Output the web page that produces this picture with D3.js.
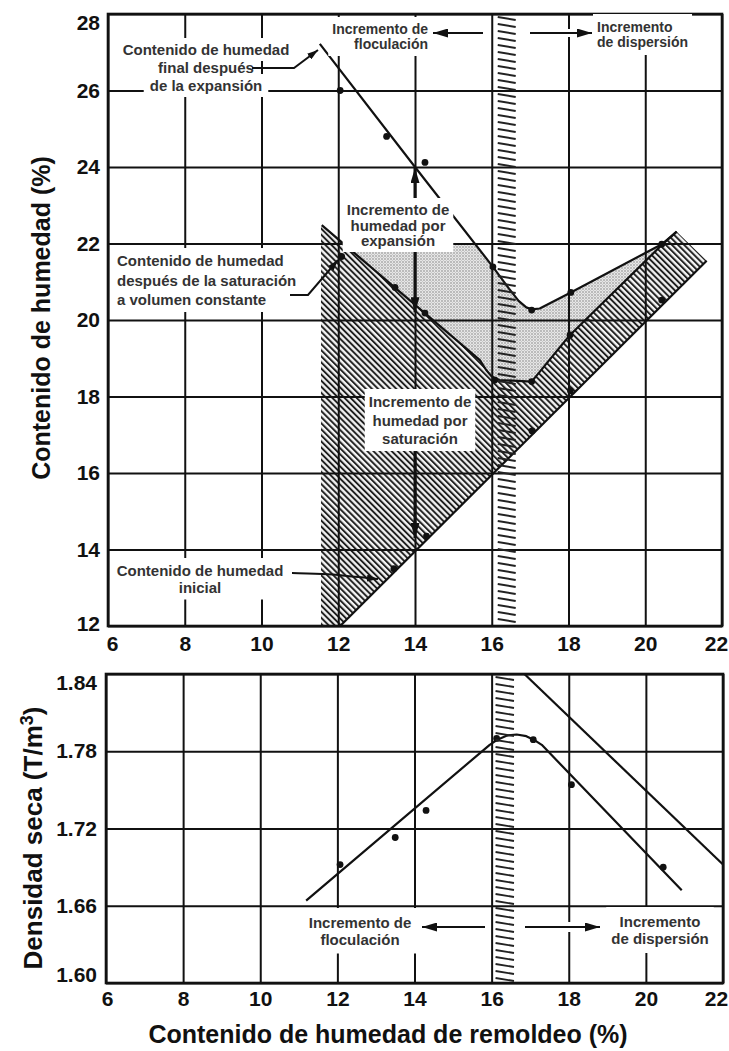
<!DOCTYPE html>
<html><head><meta charset="utf-8">
<script src="https://cdn.jsdelivr.net/npm/d3@7"></script>
<style>
body{margin:0;background:#fff;}
svg{display:block;}
text{font-family:"Liberation Sans",Arial,sans-serif;}
</style></head><body>
<svg id="c" width="729" height="1051"></svg>
<script>
// ---------- data ----------
const xTicks = [6, 8, 10, 12, 14, 16, 18, 20, 22];
const yTicksTop = [12, 14, 16, 18, 20, 22, 24, 26, 28];
const yTicksBottom = [1.60, 1.66, 1.72, 1.78, 1.84];

// moisture content after free swell (final)
const finalLine = [[11.52, 27.22], [14.0, 24.0], [16.03, 21.39], [16.45, 20.82], [16.7, 20.5], [16.9, 20.33], [17.04, 20.28], [17.25, 20.3], [18.06, 20.72], [20.43, 21.98], [20.82, 22.31]];
const finalDots = [[12.05, 26.0], [13.26, 24.8], [14.26, 24.12], [16.03, 21.39], [17.04, 20.26], [18.06, 20.72], [20.43, 21.98]];
// moisture content after saturation at constant volume
const satLine = [[11.57, 22.48], [15.69, 18.95], [15.85, 18.7], [16.0, 18.52], [16.2, 18.43], [17.04, 18.39], [18.04, 19.61], [20.43, 21.96], [20.82, 22.31]];
const satDots = [[12.09, 21.66], [13.48, 20.85], [14.26, 20.18], [16.08, 18.43], [17.04, 18.39], [18.04, 19.61]];
// initial moisture content
const initLine = [[12.05, 12.0], [21.6, 21.55]];
const initDots = [[13.45, 13.5], [14.3, 14.35], [17.05, 17.1], [18.05, 18.15], [20.43, 20.52]];
const hatchLeftX = 11.55;
const bandX = [16.13, 16.65];

// dry density
const densityCurve = [[11.19, 1.664], [15.95, 1.785], [16.15, 1.789], [16.4, 1.7922], [16.65, 1.793], [16.9, 1.7917], [17.1, 1.7888], [17.3, 1.785], [20.93, 1.672]];
const densityDots = [[12.07, 1.692], [13.5, 1.713], [14.3, 1.734], [16.13, 1.790], [17.08, 1.789], [18.07, 1.754], [20.45, 1.690]];
const zeroAirVoids = [[16.85, 1.84], [22.0, 1.692]];
const bandX2 = [16.05, 16.58];

// texts
const yTitleTop = "Contenido de humedad (%)";
const xTitle = "Contenido de humedad de remoldeo (%)";
const lblFlocTop = ["Incremento de", "floculación"];
const lblDispTop = ["Incremento", "de dispersión"];
const lblFinal = ["Contenido de humedad", "final después", "de la expansión"];
const lblSat = ["Contenido de humedad", "después de la saturación", "a volumen constante"];
const lblInit = ["Contenido de humedad", "inicial"];
const lblExp = ["Incremento de", "humedad por", "expansión"];
const lblSatInc = ["Incremento de", "humedad por", "saturación"];
const lblFlocBot = ["Incremento de", "floculación"];
const lblDispBot = ["Incremento", "de dispersión"];

// ---------- drawing ----------
const svg = d3.select("#c");
const INK = "#111";
const defs = svg.append("defs");

// patterns
const hp = defs.append("pattern").attr("id", "hatch").attr("patternUnits", "userSpaceOnUse")
  .attr("width", 4.3).attr("height", 10).attr("patternTransform", "rotate(-45)");
hp.append("rect").attr("width", 4.3).attr("height", 10).attr("fill", "#f4f4f4");
hp.append("line").attr("x1", 1).attr("x2", 1).attr("y1", 0).attr("y2", 10).attr("stroke", "#1a1a1a").attr("stroke-width", 1.9);

const sp = defs.append("pattern").attr("id", "stipple").attr("patternUnits", "userSpaceOnUse")
  .attr("width", 3).attr("height", 3);
sp.append("rect").attr("width", 3).attr("height", 3).attr("fill", "#e6e6e6");
sp.append("circle").attr("cx", 1).attr("cy", 1).attr("r", 0.7).attr("fill", "#707070");
sp.append("circle").attr("cx", 2.5).attr("cy", 2.5).attr("r", 0.4).attr("fill", "#a0a0a0");

function marker(id, w, h) {
  defs.append("marker").attr("id", id).attr("markerUnits", "userSpaceOnUse")
    .attr("viewBox", `0 0 ${w} ${h}`).attr("markerWidth", w).attr("markerHeight", h)
    .attr("refX", w).attr("refY", h / 2).attr("orient", "auto")
    .append("path").attr("d", `M0,0L${w},${h / 2}L0,${h}Z`).attr("fill", INK);
}
marker("ahBig", 15, 9);
marker("ahSmall", 11, 7);

const x = d3.scaleLinear().domain([6, 22]).range([108, 722]);
const y = d3.scaleLinear().domain([12, 28]).range([626, 14]);
const x2 = d3.scaleLinear().domain([6, 22]).range([106, 723]);
const y2 = d3.scaleLinear().domain([1.60, 1.84]).range([983, 674]);

const tickFont = g => g.selectAll("text").attr("font-size", 21).attr("font-weight", "bold").attr("fill", INK)
  .attr("font-family", '"Liberation Sans", Arial, sans-serif');
const gridStyle = g => { g.select(".domain").remove(); g.selectAll("line").attr("stroke", INK).attr("stroke-width", 2); };

function addLabel(g, lines, px, py, lh, anchor, pad, perLine, fs) {
  const t = g.append("text").attr("text-anchor", anchor).attr("font-size", fs || 15)
    .attr("font-weight", "bold").attr("fill", "#333");
  lines.forEach((s, i) => t.append("tspan").attr("x", px).attr("y", py + i * lh).text(s));
  const boxes = [];
  if (perLine) {
    t.selectAll("tspan").each(function () { boxes.push(this.getBBox()); });
  } else boxes.push(t.node().getBBox());
  boxes.forEach(b => g.insert("rect", () => t.node()).attr("x", b.x - pad[0]).attr("y", b.y - pad[1])
    .attr("width", b.width + 2 * pad[0]).attr("height", b.height + 2 * pad[1]).attr("fill", "#fff"));
  return t.node().getBBox();
}

// ===== TOP CHART =====
const gTop = svg.append("g");
const lineGen = d3.line().x(d => x(d[0])).y(d => y(d[1]));

// clip regions
defs.append("clipPath").attr("id", "below22").append("rect")
  .attr("x", x(6)).attr("y", y(22)).attr("width", x(22) - x(6)).attr("height", y(12) - y(22));
const satEnd = satLine[satLine.length - 1];
defs.append("clipPath").attr("id", "aboveSat").append("path")
  .attr("d", lineGen(satLine) + `L${x(satEnd[0])},${y(28)}L${x(satLine[0][0])},${y(28)}Z`);

// stipple (expansion increase)
const fLast = finalLine[finalLine.length - 1];
gTop.append("g").attr("clip-path", "url(#below22)").append("path")
  .attr("clip-path", "url(#aboveSat)")
  .attr("d", lineGen(finalLine) + `L${x(fLast[0])},${y(12)}L${x(finalLine[0][0])},${y(12)}Z`)
  .attr("fill", "url(#stipple)");

// hatch (saturation increase)
gTop.append("path")
  .attr("d", lineGen(satLine) + `L${x(initLine[1][0])},${y(initLine[1][1])}L${x(initLine[0][0])},${y(initLine[0][1])}L${x(hatchLeftX)},${y(12)}L${x(hatchLeftX)},${y(satLine[0][1])}Z`)
  .attr("fill", "url(#hatch)");

// grid + axes
gTop.append("g").attr("transform", `translate(0,${y(12)})`)
  .call(d3.axisBottom(x).tickValues(xTicks).tickSize(-(y(12) - y(28))).tickPadding(10).tickFormat(d3.format("d")))
  .call(gridStyle).call(tickFont)
  .call(g => g.selectAll(".tick text").attr("dx", d => d === 6 ? 4 : d === 22 ? -6 : 0));
gTop.append("g").attr("transform", `translate(${x(6)},0)`)
  .call(d3.axisLeft(y).tickValues(yTicksTop).tickSize(-(x(22) - x(6))).tickPadding(8).tickFormat(d3.format("d")))
  .call(gridStyle).call(tickFont)
  .call(g => g.selectAll(".tick text").attr("dy", d => d === 28 ? "0.75em" : d === 12 ? "0.2em" : "0.32em"));
gTop.append("rect").attr("x", x(6)).attr("y", y(28)).attr("width", x(22) - x(6)).attr("height", y(12) - y(28))
  .attr("fill", "none").attr("stroke", INK).attr("stroke-width", 2.6);

// lines
const lineStyle = p => p.attr("fill", "none").attr("stroke", INK).attr("stroke-width", 2.2).attr("stroke-linejoin", "round");
gTop.append("path").attr("d", lineGen(finalLine)).call(lineStyle);
gTop.append("path").attr("d", lineGen(satLine)).call(lineStyle);
gTop.append("path").attr("d", lineGen(initLine)).call(lineStyle);

// dots
[finalDots, satDots, initDots].forEach(arr => gTop.append("g").selectAll("circle").data(arr).join("circle")
  .attr("cx", d => x(d[0])).attr("cy", d => y(d[1])).attr("r", 3.4).attr("fill", INK));

// vertical band (top)
const bandTop = gTop.append("g").attr("stroke", "#222").attr("stroke-width", 1.9);
bandTop.selectAll("line").data(d3.range(y(28) + 3, y(12) - 3, 7)).join("line")
  .attr("x1", x(bandX[0]) + 1).attr("x2", x(bandX[1]) - 1).attr("y1", d => d).attr("y2", d => d + 3);

// labels top
addLabel(gTop, lblFlocTop, 428, 34, 15, "end", [4, 4], false, 14);
addLabel(gTop, lblDispTop, 597, 32, 15, "start", [4, 5], false, 14);
addLabel(gTop, lblFinal, 206, 55, 18, "middle", [6, 3], true);
addLabel(gTop, lblSat, 117, 266, 19.5, "start", [6, 4], false);
addLabel(gTop, lblInit, 200, 576, 16.5, "middle", [6, 4], false);
const bExp = addLabel(gTop, lblExp, 398, 215, 15.5, "middle", [4, 3], false);
const bSatInc = addLabel(gTop, lblSatInc, 420, 407, 18.5, "middle", [4, 4], false);

// arrows top
const arrow = (g, pts, m, w) => g.append("path").attr("d", d3.line()(pts)).attr("fill", "none")
  .attr("stroke", INK).attr("stroke-width", w).attr("marker-end", `url(#${m})`);
gTop.append("rect").attr("x", 430).attr("y", 29).attr("width", 56).attr("height", 8).attr("fill", "#fff");
gTop.append("rect").attr("x", 527).attr("y", 29).attr("width", 68).attr("height", 8).attr("fill", "#fff");
arrow(gTop, [[483, 33], [433, 33]], "ahBig", 2);
arrow(gTop, [[530, 33], [592, 33]], "ahBig", 2);
arrow(gTop, [[x(14), bExp.y - 3], [x(14), y(24) + 1]], "ahBig", 3);
arrow(gTop, [[x(14), bExp.y + bExp.height + 3], [x(14), y(20.2)]], "ahBig", 3);
arrow(gTop, [[x(14), bSatInc.y + bSatInc.height + 4], [x(14), y(14.3)]], "ahBig", 3);
// leaders
arrow(gTop, [[252, 68], [294, 68], [318, 50]], "ahSmall", 2);
arrow(gTop, [[290, 295], [308, 295], [338, 260]], "ahSmall", 2);
gTop.append("path").attr("d", d3.line().curve(d3.curveBasis)([[292, 573], [330, 574], [356, 577], [378, 579]]))
  .attr("fill", "none").attr("stroke", INK).attr("stroke-width", 2).attr("marker-end", "url(#ahSmall)");

// y title top
svg.append("text").attr("transform", `translate(50,318) rotate(-90)`).attr("text-anchor", "middle")
  .attr("font-size", 25).attr("font-weight", "bold").attr("fill", INK).text(yTitleTop);

// ===== BOTTOM CHART =====
const gBot = svg.append("g");
gBot.append("g").attr("transform", `translate(0,${y2(1.60)})`)
  .call(d3.axisBottom(x2).tickValues(xTicks).tickSize(-(y2(1.60) - y2(1.84))).tickPadding(8).tickFormat(d3.format("d")))
  .call(gridStyle).call(tickFont)
  .call(g => g.selectAll(".tick text").attr("dx", d => d === 6 ? 1 : d === 22 ? -7 : 0));
gBot.append("g").attr("transform", `translate(${x2(6)},0)`)
  .call(d3.axisLeft(y2).tickValues(yTicksBottom).tickSize(-(x2(22) - x2(6))).tickPadding(9).tickFormat(d3.format(".2f")))
  .call(gridStyle).call(tickFont)
  .call(g => g.selectAll(".tick text").attr("dy", d => d === 1.84 ? "0.72em" : d === 1.60 ? "-0.05em" : "0.32em"));
gBot.append("rect").attr("x", x2(6)).attr("y", y2(1.84)).attr("width", x2(22) - x2(6)).attr("height", y2(1.60) - y2(1.84))
  .attr("fill", "none").attr("stroke", INK).attr("stroke-width", 2.6);

const lineGen2 = d3.line().x(d => x2(d[0])).y(d => y2(d[1]));
gBot.append("path").attr("d", lineGen2(densityCurve)).call(lineStyle);
gBot.append("path").attr("d", lineGen2(zeroAirVoids)).call(lineStyle);
gBot.append("g").selectAll("circle").data(densityDots).join("circle")
  .attr("cx", d => x2(d[0])).attr("cy", d => y2(d[1])).attr("r", 3.4).attr("fill", INK);

const bandBot = gBot.append("g").attr("stroke", "#222").attr("stroke-width", 1.9);
bandBot.selectAll("line").data(d3.range(y2(1.84) + 3, y2(1.60) - 3, 7)).join("line")
  .attr("x1", x2(bandX2[0]) + 2).attr("x2", x2(bandX2[1])).attr("y1", d => d).attr("y2", d => d + 3);

addLabel(gBot, lblFlocBot, 360, 928, 16.5, "middle", [5, 6], false);
addLabel(gBot, lblDispBot, 660, 927, 17, "middle", [5, 6], false);
gBot.append("rect").attr("x", 420).attr("y", 922).attr("width", 68).attr("height", 10).attr("fill", "#fff");
gBot.append("rect").attr("x", 522).attr("y", 922).attr("width", 80).attr("height", 10).attr("fill", "#fff");
arrow(gBot, [[485, 927], [422, 927]], "ahBig", 2);
arrow(gBot, [[525, 927], [600, 927]], "ahBig", 2);

// titles
const yt2 = svg.append("text").attr("transform", `translate(42,838) rotate(-90)`).attr("text-anchor", "middle")
  .attr("font-size", 26).attr("font-weight", "bold").attr("fill", INK);
yt2.append("tspan").text("Densidad seca (T/m");
yt2.append("tspan").attr("font-size", 18).attr("dy", -9).text("3");
yt2.append("tspan").attr("dy", 9).text(")");
svg.append("text").attr("x", 388).attr("y", 1043).attr("text-anchor", "middle")
  .attr("font-size", 25).attr("font-weight", "bold").attr("fill", INK).text(xTitle);
</script>
</body></html>
